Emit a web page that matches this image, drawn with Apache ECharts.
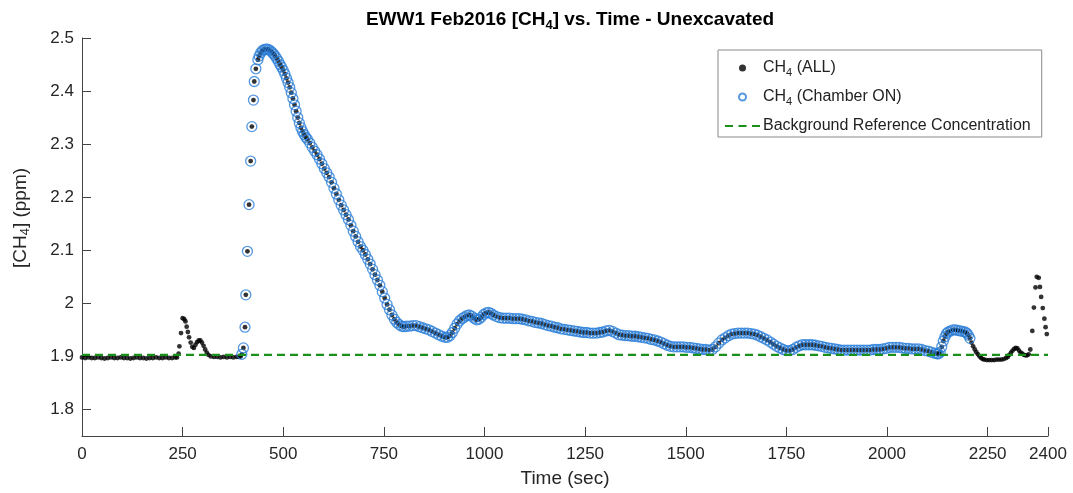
<!DOCTYPE html>
<html>
<head>
<meta charset="utf-8">
<script src="https://cdn.jsdelivr.net/npm/echarts@6/dist/echarts.min.js"></script>
<style>
html,body{margin:0;padding:0;background:#fff;}
#chart{width:1073px;height:493px;}
</style>
</head>
<body>
<div id="chart"></div>
<script>
// ---- data ----
var timeSec = [
0,8,16,24,32,40,48,56,64,72,80,88,96,104,112,120,128,136,144,152,160,168,176,184,192,200,208,216,224,232,236,
240,242,246,250,254,257,260,263,266,270,274,278,282,286,290,294,298,302,306,310,314,320,328,336,344,352,360,368,376,384,390,394,
397,401,405,407,411,415,419,422,426,428,432,437,
440,444,448,452,456,460,464,468,472,476,480,484,488,492,496,500,504,508,512,516,520,524,528,532,536,540,544,548,552,556,560,
566,572,578,584,590,596,602,608,614,620,626,632,638,644,650,656,662,668,674,680,686,692,698,704,710,716,722,728,734,740,746,752,758,764,770,776,782,788,794,800,
806,814,822,830,838,846,854,862,870,878,886,894,902,908,914,920,926,932,938,944,950,956,962,968,974,980,986,992,998,1004,1010,1016,1022,
1030,1038,1046,1054,1062,1070,1078,1086,1094,1102,1110,1118,1126,1134,1142,1150,1158,1166,1174,1182,1190,1198,1206,1214,1222,1230,1238,1246,1254,1262,1270,1278,1286,1294,1302,1310,1318,1326,1334,1342,1350,1358,1366,1374,1382,1390,1398,1406,1414,1422,1430,1438,1446,1454,1462,1470,1478,1486,1494,1502,1510,1518,1526,1534,1542,1550,1558,1566,1574,1582,1590,1598,1606,1614,1622,1630,1638,1646,1654,1662,1670,1678,1686,1694,1702,1710,1718,1726,1734,1742,1750,1758,1766,1774,1782,1790,1798,1806,1814,1822,1830,1838,1846,1854,1862,1870,1878,1886,1894,1902,1910,1918,1926,1934,1942,1950,1958,1966,1974,1982,1990,1998,2006,2014,2022,2030,2038,2046,2054,2062,2070,2078,2086,2094,2102,2110,2118,2124,2128,2132,2136,2140,2144,2148,2152,2158,2164,2170,2176,2182,2188,2194,2198,2202,2206,
2210,2214,2218,2222,2226,2230,2234,2238,2242,2248,2254,2260,2266,2272,2278,2284,2290,2296,2300,2304,2308,2312,2316,2320,2324,2328,2332,2336,2340,2344,2348,2352,2356,2361,2365,2369,2372,2377,2380,2383,2387,2391,2394,2397
];
var ch4Ppm = [
1.898,1.897,1.898,1.897,1.897,1.898,1.897,1.896,1.897,1.898,1.897,1.897,1.898,1.897,1.897,1.896,1.897,1.898,1.897,1.897,1.896,1.897,1.897,1.898,1.897,1.897,1.898,1.897,1.897,1.898,1.898,
1.905,1.919,1.944,1.972,1.970,1.966,1.956,1.946,1.936,1.926,1.918,1.916,1.922,1.927,1.930,1.930,1.926,1.920,1.913,1.907,1.903,1.900,1.899,1.899,1.898,1.899,1.898,1.899,1.898,1.899,1.899,1.900,
1.904,1.916,1.955,2.016,2.098,2.186,2.268,2.333,2.383,2.418,2.442,2.459,
2.466,2.472,2.476,2.478,2.479,2.479,2.478,2.476,2.473,2.470,2.466,2.461,2.456,2.450,2.445,2.439,2.432,2.424,2.416,2.407,2.397,2.386,2.374,2.362,2.350,2.340,2.331,2.324,2.318,2.313,2.309,
2.302,2.294,2.287,2.280,2.272,2.263,2.254,2.246,2.238,2.228,2.217,2.206,2.195,2.185,2.176,2.167,2.158,2.147,2.136,2.126,2.116,2.107,2.100,2.092,2.083,2.074,2.064,2.054,2.044,2.034,2.022,2.010,1.998,1.988,1.978,1.970,1.964,1.960,1.957,1.956,
1.957,1.957,1.958,1.958,1.956,1.954,1.952,1.950,1.947,1.944,1.941,1.938,1.936,1.936,1.939,1.945,1.953,1.961,1.967,1.971,1.974,1.977,1.978,1.976,1.972,1.969,1.970,1.974,1.979,1.982,1.983,1.981,1.978,
1.975,1.973,1.972,1.972,1.972,1.971,1.971,1.971,1.970,1.969,1.967,1.966,1.964,1.963,1.962,1.960,1.958,1.957,1.955,1.954,1.952,1.951,1.950,1.949,1.948,1.947,1.946,1.945,1.945,1.944,1.944,1.944,1.945,1.946,1.948,1.949,1.947,1.944,1.941,1.940,1.939,1.939,1.938,1.938,1.937,1.936,1.935,1.934,1.932,1.931,1.929,1.927,1.924,1.921,1.919,1.918,1.918,1.918,1.918,1.917,1.917,1.916,1.915,1.914,1.913,1.913,1.912,1.913,1.918,1.925,1.931,1.935,1.939,1.942,1.943,1.944,1.944,1.944,1.944,1.943,1.942,1.940,1.937,1.934,1.931,1.927,1.923,1.919,1.916,1.913,1.911,1.911,1.913,1.917,1.920,1.922,1.922,1.922,1.922,1.921,1.920,1.919,1.917,1.916,1.915,1.914,1.913,1.912,1.912,1.912,1.912,1.912,1.912,1.912,1.912,1.912,1.912,1.913,1.913,1.913,1.914,1.915,1.917,1.917,1.917,1.917,1.916,1.915,1.915,1.914,1.914,1.914,1.913,1.911,1.910,1.908,1.906,1.905,1.905,1.908,1.918,1.929,1.937,1.943,1.946,1.948,1.950,1.950,1.949,1.948,1.947,1.946,1.944,1.940,1.934,
1.926,1.919,1.913,1.908,1.904,1.900,1.897,1.895,1.894,1.893,1.893,1.893,1.893,1.894,1.894,1.894,1.895,1.897,1.899,1.903,1.907,1.911,1.914,1.916,1.915,1.911,1.907,1.905,1.903,1.902,1.902,1.904,1.913,1.948,1.992,2.030,2.050,2.048,2.031,2.012,1.991,1.971,1.955,1.942
];
var chamberOnStart = 397;   // sec
var chamberOnEnd = 2206;    // sec
var backgroundRef = 1.903;  // ppm
var xTicks = [0,250,500,750,1000,1250,1500,1750,2000,2250,2400];
var yTicks = [1.8,1.9,2,2.1,2.2,2.3,2.4,2.5];

// ---- build series data ----
var allData = [], onData = [];
for (var i = 0; i < timeSec.length; i++) {
  allData.push([timeSec[i], ch4Ppm[i]]);
  if (timeSec[i] >= chamberOnStart && timeSec[i] <= chamberOnEnd) onData.push([timeSec[i], ch4Ppm[i]]);
}

var FONT = '"Liberation Sans", Arial, Helvetica, sans-serif';
var AX = '#262626';
var GREEN = '#18901a';
var BLUE = '#2a7ed8';
var chart = echarts.init(document.getElementById('chart'), null, {renderer:'canvas'});
chart.setOption({
  animation: false,
  backgroundColor: '#fff',
  textStyle: {fontFamily: FONT},
  title: {
    text: '{a|EWW1 Feb2016 [CH}{s|4}{a|] vs. Time - Unexcavated}',
    left: 565, textAlign: 'center', top: 3,
    textStyle: {
      rich: {
        a: {fontFamily: FONT, fontSize: 19, fontWeight: 'bold', color: '#000', lineHeight: 24},
        s: {fontFamily: FONT, fontSize: 13, fontWeight: 'bold', color: '#000', lineHeight: 13, verticalAlign: 'bottom'}
      }
    }
  },
  grid: {left: 82, right: 25, top: 38, bottom: 54, containLabel: false},
  legend: {
    orient: 'vertical',
    left: 718, top: 50,
    padding: [10, 11, 3, 7],
    itemGap: 11,
    itemWidth: 35, itemHeight: 7,
    backgroundColor: '#fff',
    borderColor: '#8a8a8a', borderWidth: 1,
    data: [
      {name: 'all'},
      {name: 'on'},
      {name: 'bg', icon: 'path://M0,0h8v2h-8z M13.5,0h8v2h-8z M27,0h8v2h-8z', itemStyle: {color: GREEN}}
    ],
    formatter: function (n) {
      if (n === 'all') return '{a|CH}{s|4}{a| (ALL)}';
      if (n === 'on') return '{a|CH}{s|4}{a| (Chamber ON)}';
      return '{a|Background Reference Concentration}';
    },
    textStyle: {
      padding: [0,0,0,-2],
      rich: {
        a: {fontFamily: FONT, fontSize: 16, color: '#222', lineHeight: 20},
        s: {fontFamily: FONT, fontSize: 11, color: '#222', lineHeight: 11, verticalAlign: 'bottom'}
      }
    }
  },
  xAxis: {
    type: 'value', min: 0, max: 2400,
    name: 'Time (sec)', nameLocation: 'middle', nameGap: 33,
    nameTextStyle: {fontFamily: FONT, fontSize: 19, color: AX},
    axisLine: {show: true, onZero: false, lineStyle: {color: '#444', width: 1}},
    axisTick: {show: true, inside: true, length: 9, customValues: xTicks, lineStyle: {color: '#444'}},
    axisLabel: {customValues: xTicks, fontFamily: FONT, fontSize: 17, color: AX, margin: 10,
      showMinLabel: true, showMaxLabel: true, formatter: function (v) { return String(v); }},
    splitLine: {show: false}
  },
  yAxis: {
    type: 'value', min: 1.75, max: 2.5,
    name: '{a|[CH}{s|4}{a|] (ppm)}', nameLocation: 'middle', nameGap: 50, nameRotate: 90,
    nameTextStyle: {
      padding: [0, 0, 0, 38],
      rich: {
        a: {fontFamily: FONT, fontSize: 19, color: AX, lineHeight: 22},
        s: {fontFamily: FONT, fontSize: 13, color: AX, lineHeight: 13, verticalAlign: 'bottom'}
      }
    },
    axisLine: {show: true, onZero: false, lineStyle: {color: '#444', width: 1}},
    axisTick: {show: true, inside: true, length: 9, customValues: yTicks, lineStyle: {color: '#444'}},
    axisLabel: {customValues: yTicks, fontFamily: FONT, fontSize: 17, color: AX, margin: 8,
      formatter: function (v) { return String(+v.toFixed(2)); }},
    splitLine: {show: false}
  },
  series: [
    {
      name: 'all', type: 'scatter', data: allData,
      symbol: 'circle', symbolSize: 4.8,
      itemStyle: {color: '#000'},
      emphasis: {disabled: true}, z: 2
    },
    {
      name: 'on', type: 'scatter', data: onData,
      symbol: 'circle', symbolSize: 10,
      itemStyle: {color: 'rgba(0,0,0,0)', borderColor: BLUE, borderWidth: 1.3},
      emphasis: {disabled: true}, z: 3
    },
    {
      name: 'bg', type: 'line', data: [[0, backgroundRef], [2400, backgroundRef]],
      symbol: 'none', showSymbol: false,
      lineStyle: {color: GREEN, width: 2.3, type: [8, 5]},
      itemStyle: {color: GREEN},
      emphasis: {disabled: true}, z: 4
    }
  ]
});
</script>
</body>
</html>
